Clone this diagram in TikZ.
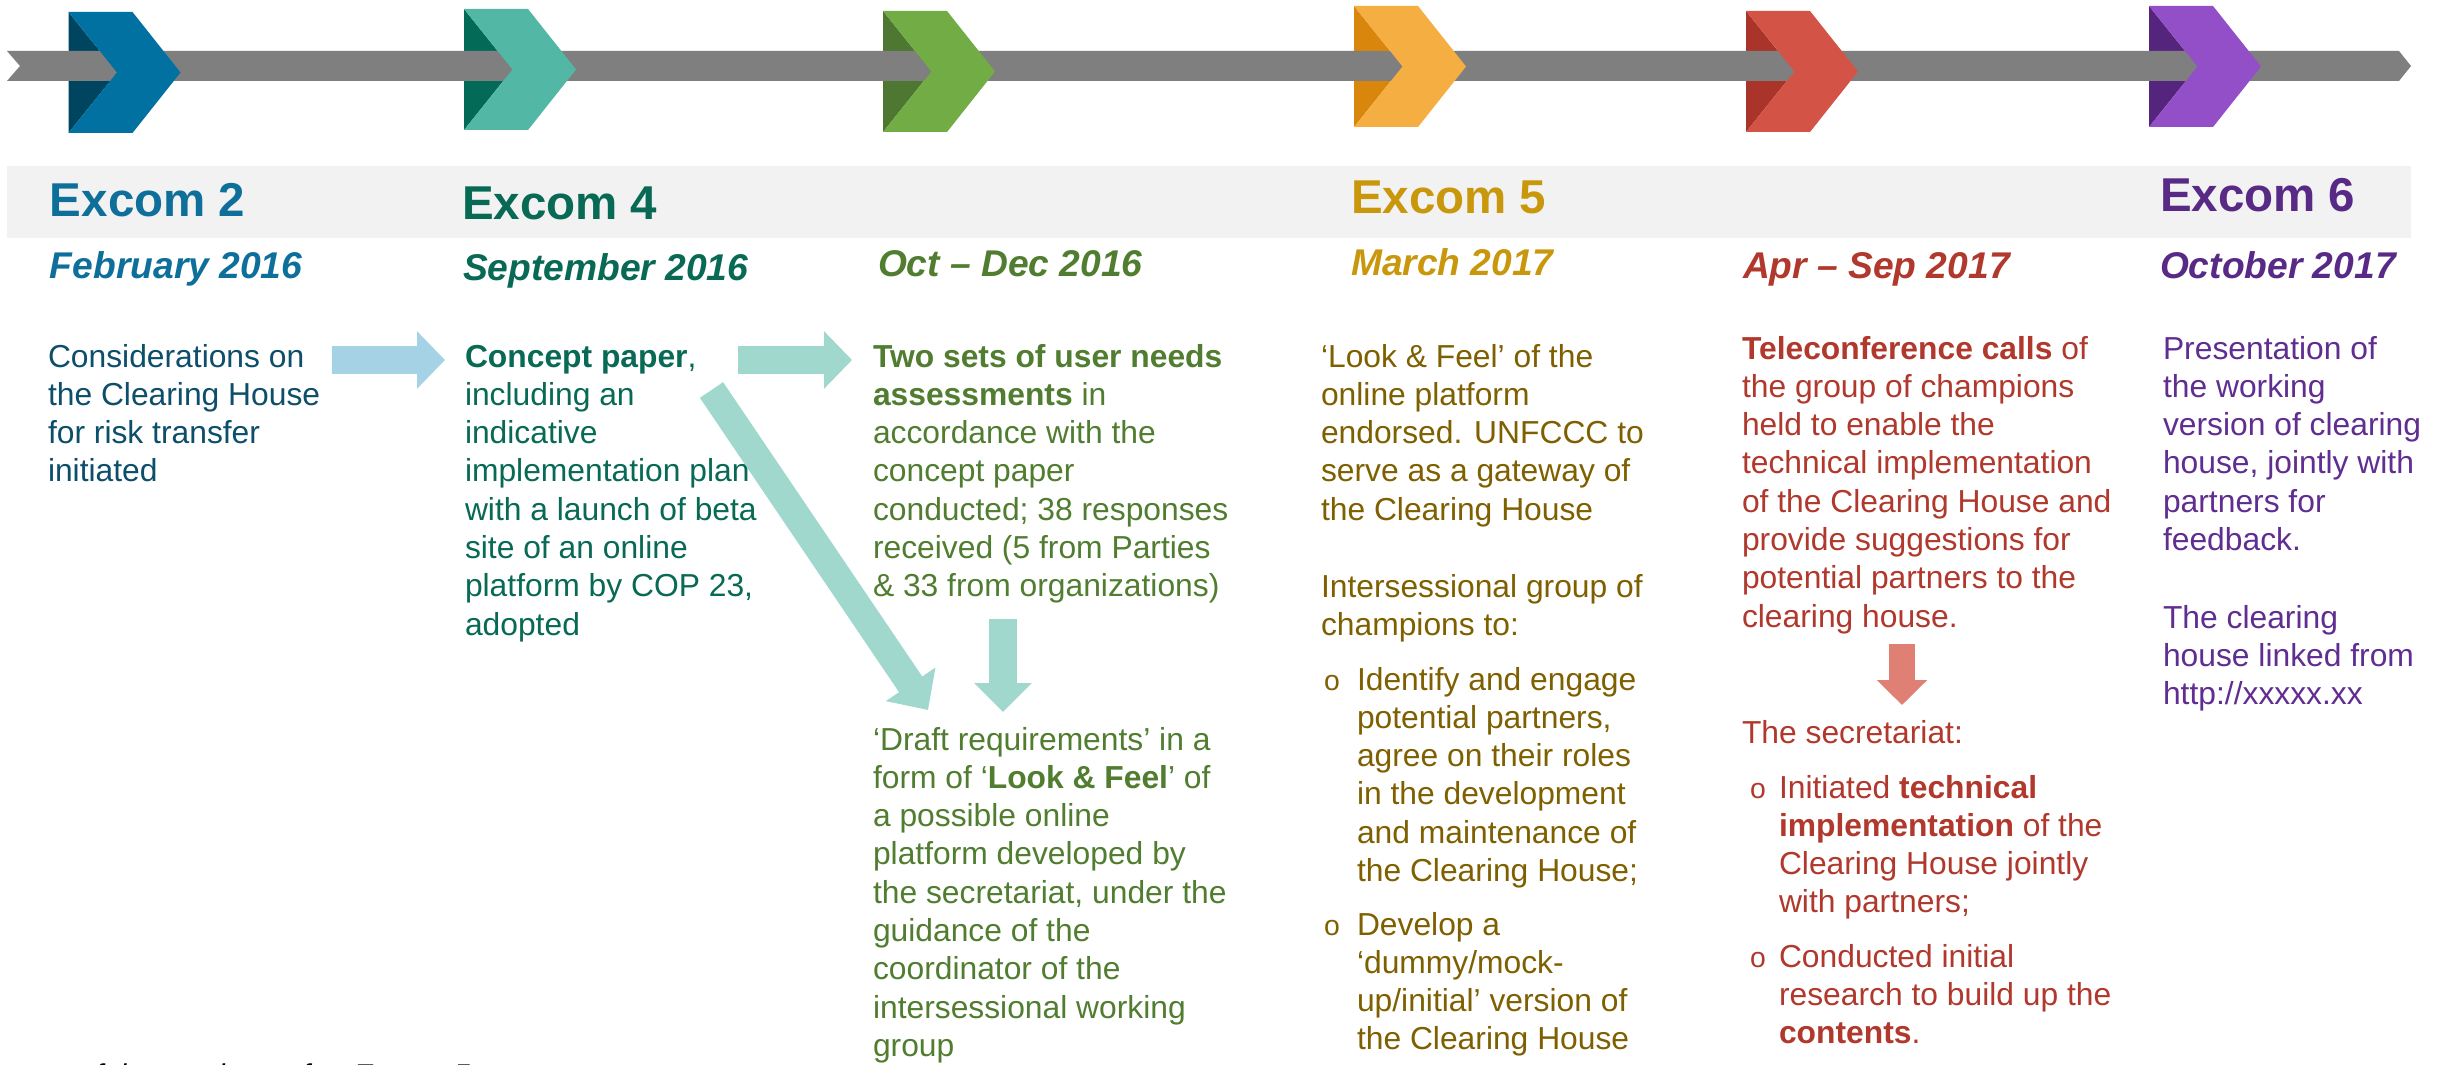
\documentclass[tikz,border=0pt]{standalone}
\usepackage{fontspec}
\setmainfont{Liberation Sans}
\usetikzlibrary{arrows.meta}

\definecolor{cBlue}{RGB}{0,113,160}
\definecolor{cBlueD}{RGB}{0,69,96}
\definecolor{cTeal}{RGB}{82,184,165}
\definecolor{cTealD}{RGB}{3,106,88}
\definecolor{cGreen}{RGB}{114,172,68}
\definecolor{cGreenD}{RGB}{78,120,50}
\definecolor{cOrange}{RGB}{245,174,66}
\definecolor{cOrangeD}{RGB}{217,134,12}
\definecolor{cRed}{RGB}{211,84,70}
\definecolor{cRedD}{RGB}{170,52,41}
\definecolor{cPurple}{RGB}{146,79,200}
\definecolor{cPurpleD}{RGB}{85,36,124}
\definecolor{barGray}{RGB}{127,127,127}
\definecolor{bandGray}{RGB}{242,242,242}

\definecolor{tBlueH}{RGB}{14,111,155}
\definecolor{tBlue}{RGB}{13,78,107}
\definecolor{tTeal}{RGB}{8,105,85}
\definecolor{tGreen}{RGB}{80,125,48}
\definecolor{tGoldH}{RGB}{201,151,12}
\definecolor{tGold}{RGB}{127,96,0}
\definecolor{tRed}{RGB}{176,56,44}
\definecolor{tPurpleH}{RGB}{88,42,134}
\definecolor{tPurple}{RGB}{96,45,145}

\definecolor{arBlue}{RGB}{166,210,229}
\definecolor{arTeal}{RGB}{160,216,206}
\definecolor{arRed}{RGB}{224,128,117}

\newcommand\fBody{\fontsize{9.54pt}{11.49pt}\selectfont}
\newcommand\fHead{\fontsize{14.25pt}{16pt}\selectfont\bfseries}
\newcommand\fDate{\fontsize{11.16pt}{13pt}\selectfont\bfseries\itshape}
\newcommand\fBul{\fontsize{8.5pt}{10pt}\selectfont}
\newcommand\fNote{\fontsize{9pt}{11pt}\selectfont\itshape}
\newcommand\lines[1]{\parbox[t]{200pt}{\raggedright #1}}

\tikzset{
  txt/.style={anchor=base west, inner sep=0pt, outer sep=0pt},
  headtxt/.style={txt, font=\fHead},
  datetxt/.style={txt, font=\fDate},
  bodytxt/.style={txt, font=\fBody},
  bultxt/.style={txt, font=\fBul},
  blockarrow/.style={line width=8.4pt, -{Triangle[length=8.4pt,width=16.8pt]}},
}

\begin{document}
\begin{tikzpicture}[x=0.3pt,y=-0.3pt]
\useasboundingbox (0,0) rectangle (2440,1064);
\clip (0,0) rectangle (2440,1064);
\fill[white] (0,0) rectangle (2440,1064);

% dark folds of the chevrons
\foreach \L/\T/\dk in {68.5/12/cBlueD, 464/9/cTealD, 883/11/cGreenD, 1354/6/cOrangeD, 1746/11/cRedD, 2149/6/cPurpleD}
  \fill[\dk] (\L,\T) -- ++(48.5,60.5) -- ++(-48.5,60.5) -- cycle;

% timeline bar
\fill[barGray] (7,51) -- (2399,51) -- (2411,66) -- (2399,81) -- (7,81) -- (20,66) -- cycle;

% chevrons
\foreach \L/\T/\lt in {68.5/12/cBlue, 464/9/cTeal, 883/11/cGreen, 1354/6/cOrange, 1746/11/cRed, 2149/6/cPurple}
  \fill[\lt] (\L,\T) -- ++(64,0) -- ++(48,60.5) -- ++(-48,60.5) -- ++(-64,0) -- ++(48.5,-60.5) -- cycle;

% heading band
\fill[bandGray] (7,166) rectangle (2411,238);

% column 1
\node[headtxt, text=tBlueH] (h1) at (50,217) {Excom 2};
\node[datetxt, text=tBlueH] (d1) at (50,278) {February 2016};
\node[bodytxt, text=tBlue] (t1) at (48,367) {\lines{Considerations on\\the Clearing House\\for risk transfer\\initiated}};

% column 2
\node[headtxt, text=tTeal] (h2) at (462,219) {Excom 4};
\node[datetxt, text=tTeal] (d2) at (463,280) {September 2016};
\node[bodytxt, text=tTeal] (t2) at (465,367) {\lines{\textbf{Concept paper},\\including an\\indicative\\implementation plan\\with a launch of beta\\site of an online\\platform by COP 23,\\adopted}};

% column 3
\node[datetxt, text=tGreen] (d3) at (878,277) {Oct – Dec 2016};
\node[bodytxt, text=tGreen] (t3a) at (873,367) {\lines{\textbf{Two sets of user needs}\\\textbf{assessments} in\\accordance with the\\concept paper\\conducted; 38 responses\\received (5 from Parties\\\& 33 from organizations)}};
\node[bodytxt, text=tGreen] (t3b) at (873,750) {\lines{‘Draft requirements’ in a\\form of ‘\textbf{Look \& Feel}’ of\\a possible online\\platform developed by\\the secretariat, under the\\guidance of the\\coordinator of the\\intersessional working\\group}};

% column 4
\node[headtxt, text=tGoldH] (h4) at (1351,213) {Excom 5};
\node[datetxt, text=tGoldH] (d4) at (1351,275) {March 2017};
\node[bodytxt, text=tGold] (t4a) at (1321,367) {\lines{‘Look \& Feel’ of the\\online platform\\endorsed. UNFCCC to\\serve as a gateway of\\the Clearing House}};
\node[bodytxt, text=tGold] (t4b) at (1321,597) {\lines{Intersessional group of\\champions to:}};
\node[bultxt, text=tGold] (b4a) at (1324,690) {o};
\node[bodytxt, text=tGold] (t4c) at (1357,690) {\lines{Identify and engage\\potential partners,\\agree on their roles\\in the development\\and maintenance of\\the Clearing House;}};
\node[bultxt, text=tGold] (b4b) at (1324,935) {o};
\node[bodytxt, text=tGold] (t4d) at (1357,935) {\lines{Develop a\\‘dummy/mock-\\up/initial’ version of\\the Clearing House}};

% column 5
\node[datetxt, text=tRed] (d5) at (1743,278) {Apr – Sep 2017};
\node[bodytxt, text=tRed] (t5a) at (1742,359) {\lines{\textbf{Teleconference calls} of\\the group of champions\\held to enable the\\technical implementation\\of the Clearing House and\\provide suggestions for\\potential partners to the\\clearing house.}};
\node[bodytxt, text=tRed] (t5b) at (1742,743) {The secretariat:};
\node[bultxt, text=tRed] (b5a) at (1750,798) {o};
\node[bodytxt, text=tRed] (t5c) at (1779,798) {\lines{Initiated \textbf{technical}\\\textbf{implementation} of the\\Clearing House jointly\\with partners;}};
\node[bultxt, text=tRed] (b5b) at (1750,967) {o};
\node[bodytxt, text=tRed] (t5d) at (1779,967) {\lines{Conducted initial\\research to build up the\\\textbf{contents}.}};

% column 6
\node[headtxt, text=tPurpleH] (h6) at (2160,211) {Excom 6};
\node[datetxt, text=tPurpleH] (d6) at (2160,278) {October 2017};
\node[bodytxt, text=tPurple] (t6a) at (2163,359) {\lines{Presentation of\\the working\\version of clearing\\house, jointly with\\partners for\\feedback.}};
\node[bodytxt, text=tPurple] (t6b) at (2163,628) {\lines{The clearing\\house linked from\\http://xxxxx.xx}};

% cut-off note at the bottom edge
\node[txt, font=\fNote, text=black] (note) at (78,1085) {of the mock-up after Excom 5};

% connectors
\coordinate (a1s) at (332,360);
\coordinate (a1e) at (445,360);
\coordinate (a2s) at (738,360);
\coordinate (a2e) at (852,360);
\coordinate (a3s) at (711.5,390);
\coordinate (a3e) at (928,710);
\coordinate (a4s) at (1003,619);
\coordinate (a4e) at (1003,712);
\coordinate (a5s) at (1902,644);
\coordinate (a5e) at (1902,705);

\draw[blockarrow, arBlue] (a1s) -- (a1e);
\draw[blockarrow, arTeal] (a2s) -- (a2e);
\draw[blockarrow, arTeal, -{Triangle[length=9.3pt,width=17.4pt]}] (a3s) -- (a3e);
\draw[blockarrow, arTeal, -{Triangle[length=8.7pt,width=16.8pt]}] (a4s) -- (a4e);
\draw[blockarrow, arRed, line width=7.8pt, -{Triangle[length=7.5pt,width=14.7pt]}] (a5s) -- (a5e);
\end{tikzpicture}
\end{document}
